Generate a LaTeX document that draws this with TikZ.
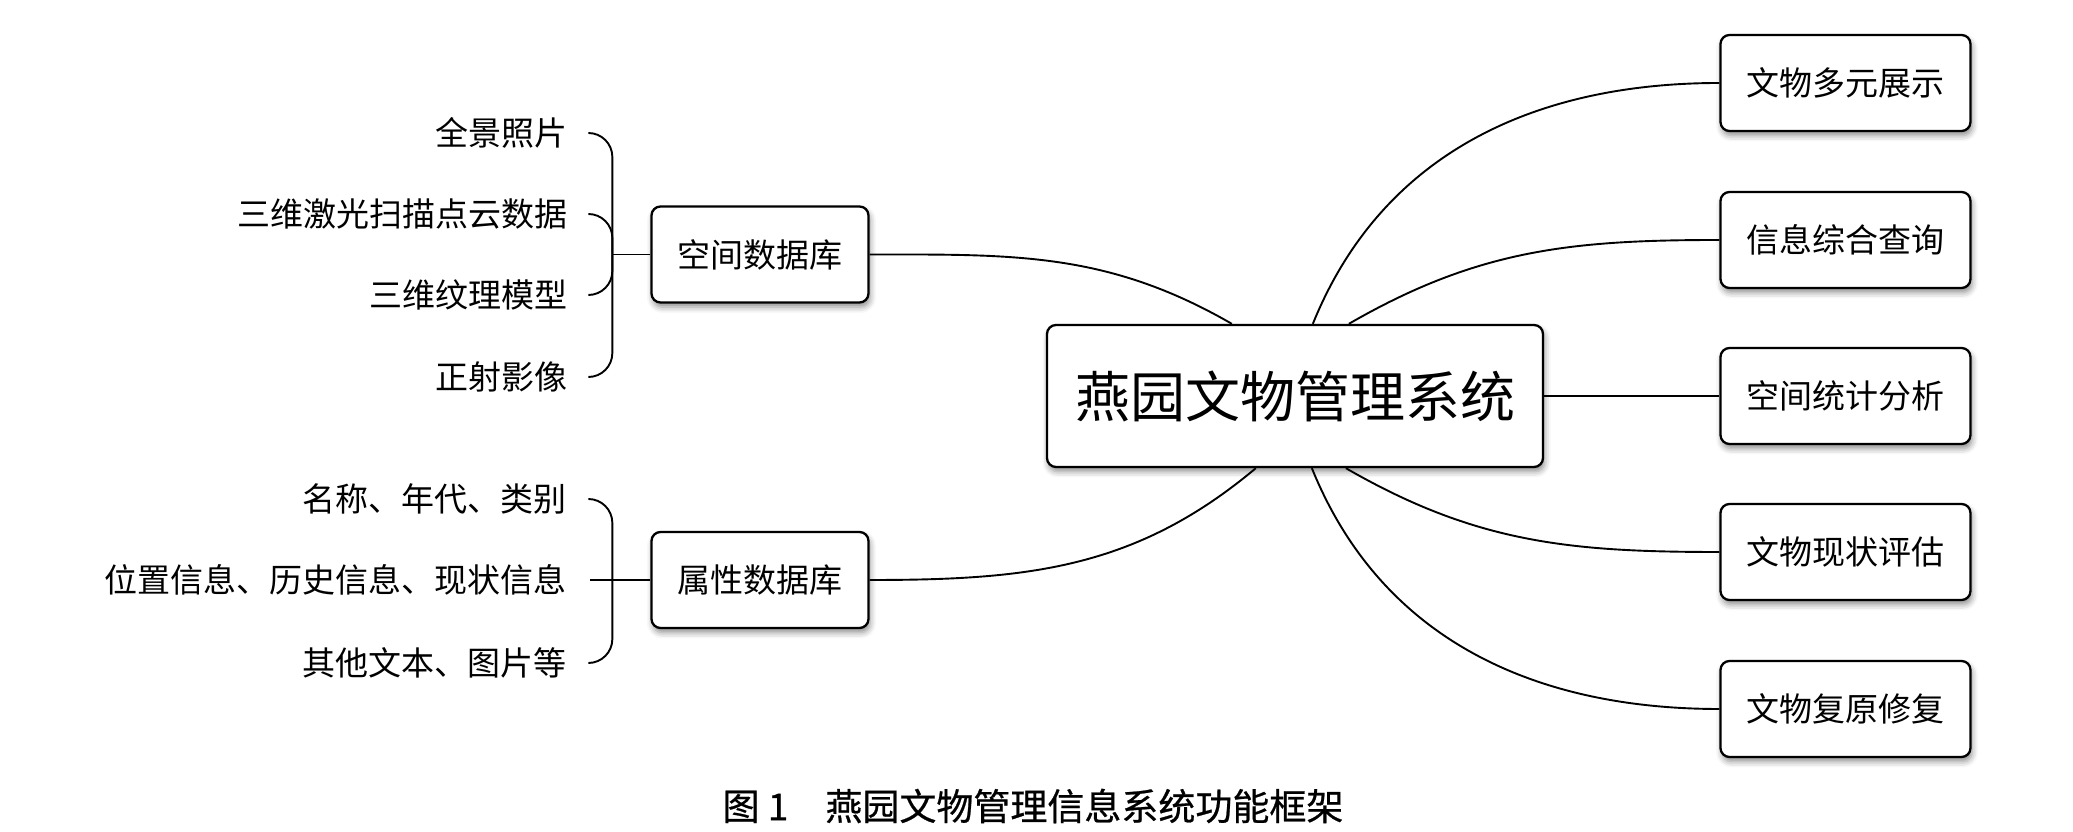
\documentclass[tikz,border=0pt]{standalone}
\usepackage{fontspec}
\setmainfont{Noto Sans CJK SC}
\newfontfamily\capfont{Noto Sans CJK SC}[FakeBold=0.6]
\usetikzlibrary{calc,shadows.blur}
\begin{document}
\begin{tikzpicture}[x=1pt,y=1pt,
  box/.style={draw=black, line width=2.3pt, rounded corners=9pt, fill=white,
    align=center, inner sep=0pt,
    blur shadow={shadow xshift=1.5pt, shadow yshift=-4.5pt, shadow blur radius=6pt, shadow opacity=45}},
  midfont/.style={font=\fontsize{33}{40}\selectfont},
  subbox/.style={box, midfont, minimum width=250pt, minimum height=96pt},
  dbbox/.style={box, midfont, minimum width=217pt, minimum height=96pt},
  leaf/.style={midfont, anchor=east, inner sep=0pt},
  conn/.style={line width=1.9pt, black},
  bracecon/.style={conn, rounded corners=24pt},
]
\useasboundingbox (0,0) rectangle (2073,832);

% central node
\node[box, minimum width=496pt, minimum height=142pt, font=\fontsize{55}{66}\selectfont] (root) at (1295,436) {燕园文物管理系统};

% database nodes
\node[dbbox] (sdb) at (760,577.5) {空间数据库};
\node[dbbox] (adb) at (760,252) {属性数据库};

% right nodes
\node[subbox] (r1) at (1845.5,749) {文物多元展示};
\node[subbox] (r2) at (1845.5,592) {信息综合查询};
\node[subbox] (r3) at (1845.5,436) {空间统计分析};
\node[subbox] (r4) at (1845.5,280) {文物现状评估};
\node[subbox] (r5) at (1845.5,123) {文物复原修复};

% leaves of spatial database
\node[leaf] (s1) at (568,699) {全景照片};
\node[leaf] (s2) at (568,618) {三维激光扫描点云数据};
\node[leaf] (s3) at (568,537) {三维纹理模型};
\node[leaf] (s4) at (568,455) {正射影像};

% leaves of attribute database
\node[leaf] (a1) at (567,333) {名称、年代、类别};
\node[leaf] (a2) at (567,252) {位置信息、历史信息、现状信息};
\node[leaf] (a3) at (567,169) {其他文本、图片等};

% brace junctions
\coordinate (sj) at ($(sdb.west)+(-38,0)$);
\coordinate (aj) at ($(adb.west)+(-38,0)$);

\draw[conn] (sj) -- (sdb.west);
\foreach \n in {s1,s2,s3,s4}
  \draw[bracecon] (sj) |- ($(\n.east)+(22,0)$);
\draw[conn] (aj) -- (adb.west);
\draw[conn] (aj) -- ($(a2.east)+(23,0)$);
\foreach \n in {a1,a3}
  \draw[bracecon] (aj) |- ($(\n.east)+(23,0)$);

% connectors from root
\draw[conn] (sdb.east) to[out=0,in=150] ($(root.north west)+(186,0)$);
\draw[conn] (adb.east) to[out=0,in=-140] ($(root.south west)+(210,0)$);
\draw[conn] ($(root.north west)+(267,0)$) to[out=68,in=180] (r1.west);
\draw[conn] ($(root.north west)+(303,0)$) to[out=30,in=180] (r2.west);
\draw[conn] (root.east) -- (r3.west);
\draw[conn] ($(root.south west)+(300,0)$) to[out=-30,in=180] (r4.west);
\draw[conn] ($(root.south west)+(266,0)$) to[out=-68,in=180] (r5.west);

% caption
\node[inner sep=0pt, font=\capfont\fontsize{37}{44}\selectfont] (cap) at (1033,26) {图 1　燕园文物管理信息系统功能框架};
\end{tikzpicture}
\end{document}
